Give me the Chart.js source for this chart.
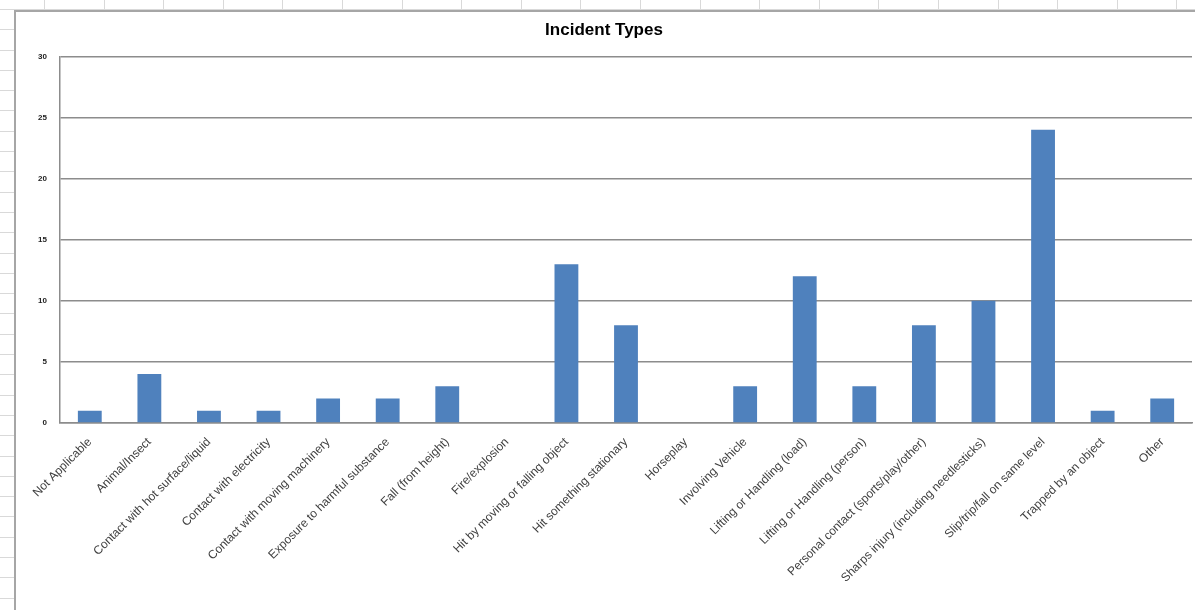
<!DOCTYPE html>
<html>
<head>
<meta charset="utf-8">
<script src="https://cdn.jsdelivr.net/npm/chart.js@4.4.0/dist/chart.umd.min.js"></script>
<style>
  html, body { margin: 0; padding: 0; }
  body {
    width: 1195px; height: 610px; overflow: hidden; position: relative;
    background-color: #fff;
    background-image:
      repeating-linear-gradient(to right, transparent 0, transparent 44px, #d9d9d9 44px, #d9d9d9 45px, transparent 45px, transparent 59.6px),
      repeating-linear-gradient(to bottom, transparent 0, transparent 9px, #d9d9d9 9px, #d9d9d9 10px, transparent 10px, transparent 20.3px);
  }
  #box {
    position: absolute; left: 14px; top: 10px; width: 1181px; height: 600px;
    background: #fff; border-left: 2px solid #a6a6a6; border-top: 2px solid #a6a6a6;
  }
  #wrap { position: absolute; left: 0; top: 0; width: 1179px; height: 598px; }
</style>
</head>
<body>
<div id="box"><div id="wrap"><canvas id="incidentChart"></canvas></div></div>
<script>
const categories = [
  "Not Applicable", "Animal/Insect", "Contact with hot surface/liquid", "Contact with electricity",
  "Contact with moving machinery", "Exposure to harmful substance", "Fall (from height)",
  "Fire/explosion", "Hit by moving or falling object", "Hit something stationary", "Horseplay",
  "Involving Vehicle", "Lifting or Handling (load)", "Lifting or Handling (person)",
  "Personal contact (sports/play/other)", "Sharps injury (including needlesticks)",
  "Slip/trip/fall on same level", "Trapped by an object", "Other"
];
const counts = [1, 4, 1, 1, 2, 2, 3, 0, 13, 8, 0, 3, 12, 3, 8, 10, 24, 1, 2];
const yTicks = [0, 5, 10, 15, 20, 25, 30];

const ctx = document.getElementById("incidentChart").getContext("2d");

new Chart(ctx, {
  type: "bar",
  data: {
    labels: categories,
    datasets: [{
      data: counts,
      backgroundColor: "#4F81BD",
      borderWidth: 0,
      barPercentage: 0.4,
      categoryPercentage: 1.0
    }]
  },
  options: {
    responsive: true,
    maintainAspectRatio: false,
    animation: false,
    layout: { padding: { left: 0, right: 3, top: 0, bottom: 0 } },
    scales: {
      x: {
        grid: { display: false, drawTicks: false },
        border: { color: "#8c8c8c", width: 1.5 },
        ticks: {
          autoSkip: false, maxRotation: 45, minRotation: 45, padding: 12,
          color: "#404040", font: { family: "Liberation Sans", size: 12 }
        },
        afterFit: (s) => { s.height = 187; }
      },
      y: {
        min: 0, max: 30,
        afterBuildTicks: (s) => { s.ticks = yTicks.map(v => ({ value: v })); },
        grid: { color: "#8c8c8c", lineWidth: 1.5, drawTicks: false },
        border: { color: "#8c8c8c", width: 1.5 },
        ticks: {
          padding: 13, color: "#222",
          font: { family: "Liberation Sans", size: 8, weight: "bold" }
        },
        afterFit: (s) => { s.width = 44; }
      }
    },
    plugins: {
      legend: { display: false },
      tooltip: { enabled: false },
      title: {
        display: true, text: "Incident Types", color: "#000",
        font: { family: "Liberation Sans", size: 17, weight: "bold" },
        padding: { top: 8, bottom: 16 }
      }
    }
  }
});
</script>
</body>
</html>
